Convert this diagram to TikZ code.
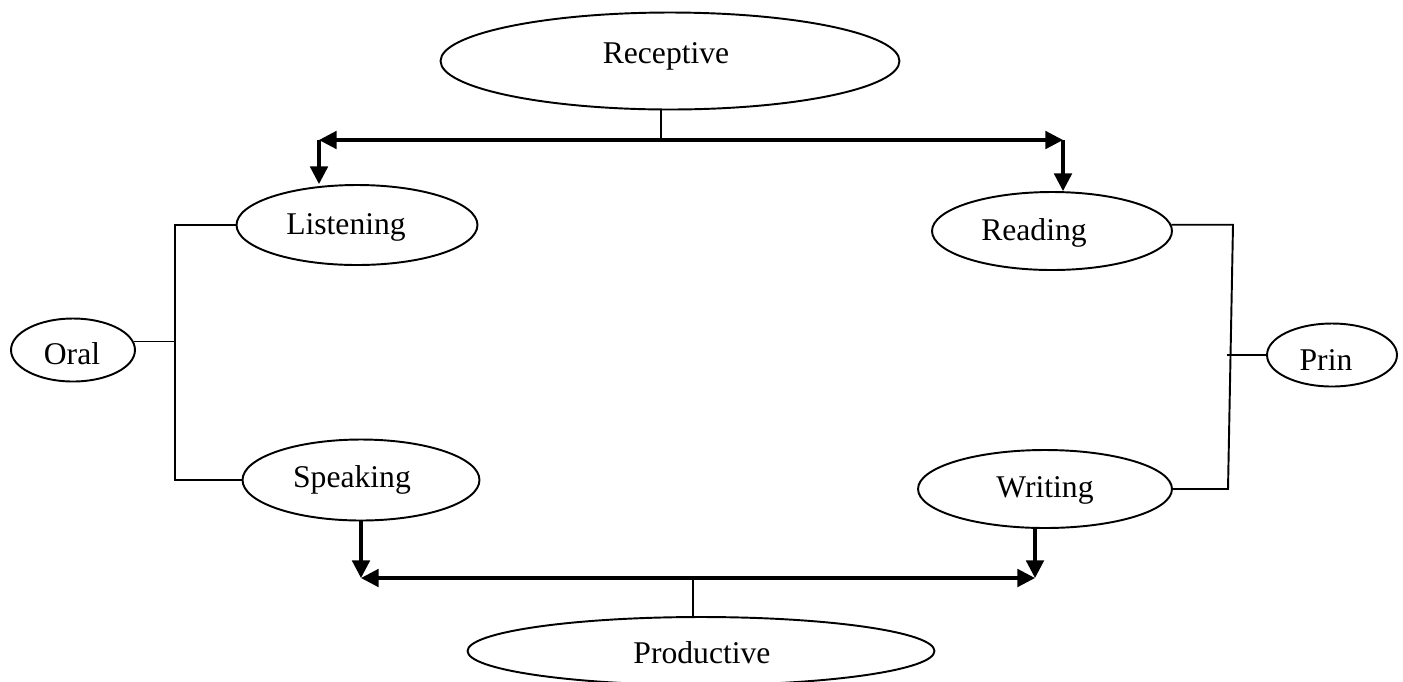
\documentclass[tikz,border=0pt]{standalone}
\usepackage{fontspec}
\setmainfont{Liberation Serif}
\usetikzlibrary{shapes.geometric,arrows.meta}
\begin{document}
\begin{tikzpicture}[x=0.02cm,y=-0.02cm,
  oval/.style={draw,ellipse,line width=1.1pt,inner sep=0pt},
  lbl/.style={font=\fontsize{18}{20}\selectfont,inner sep=0pt,anchor=base},
  link/.style={line width=1.1pt},
  heavy/.style={line width=1.8pt,-{Triangle[length=10pt,width=10pt]}},
  heavytwo/.style={line width=1.8pt,{Triangle[length=10pt,width=10pt]}-{Triangle[length=10pt,width=10pt]}}]
\useasboundingbox (0,0) rectangle (1403,681);

% ellipses
\node[oval,minimum width=9.18cm,minimum height=1.94cm] (rec) at (670,61) {};
\node[oval,minimum width=4.82cm,minimum height=1.60cm] (lis) at (357,225) {};
\node[oval,minimum width=4.80cm,minimum height=1.56cm] (rea) at (1052,231) {};
\node[oval,minimum width=4.74cm,minimum height=1.62cm] (spk) at (361,480) {};
\node[oval,minimum width=5.08cm,minimum height=1.56cm] (wri) at (1045,489) {};
\node[oval,minimum width=2.48cm,minimum height=1.26cm] (oral) at (73,350) {};
\node[oval,minimum width=2.60cm,minimum height=1.26cm] (prin) at (1332,355) {};
\node[oval,minimum width=9.34cm,minimum height=1.36cm] (pro) at (701,651) {};

% labels
\node[lbl] (trec) at (666,63) {Receptive};
\node[lbl] (tlis) at (346,234) {Listening};
\node[lbl] (trea) at (1034,240) {Reading};
\node[lbl] (tspk) at (352,487) {Speaking};
\node[lbl] (twri) at (1045,497) {Writing};
\node[lbl] (toral) at (72,364) {Oral};
\node[lbl] (tprin) at (1326,370) {Prin};
\node[lbl] (tpro) at (702,663) {Productive};

% junction coordinates
\coordinate (rs) at (661,140);
\coordinate (tl) at (319,140);
\coordinate (tr) at (1063,140);
\coordinate (bl) at (361,578);
\coordinate (br) at (1035,578);
\coordinate (bs) at (693,578);
\coordinate (lb) at (175,0);
\coordinate (rt) at (1233,0);
\coordinate (rb) at (1228,0);
\coordinate (rm) at (1227,0);

% top connectors
\draw[link] (rec.south -| rs) -- (rs);
\draw[heavytwo] (tl) -- (tr);
\draw[heavy] (tl) -- (tl |- lis.north);
\draw[heavy] (tr) -- (tr |- rea.north);

% bottom connectors
\draw[heavytwo] (bl) -- (br);
\draw[heavy] (spk.south) -- (bl);
\draw[heavy] (wri.south -| br) -- (br);
\draw[link] (bs) -- (bs |- pro.north);

% left bracket
\draw[link] (lis.west) -- (lis.west -| lb) -- (spk.west -| lb) -- (spk.west);
\draw[link] (oral.8) -- (oral.8 -| lb);

% right bracket
\draw[link] (rea.3) -- (rea.3 -| rt) -- (wri.east -| rb) -- (wri.east);
\draw[link] (prin.west -| rm) -- (prin.west);
\end{tikzpicture}
\end{document}
